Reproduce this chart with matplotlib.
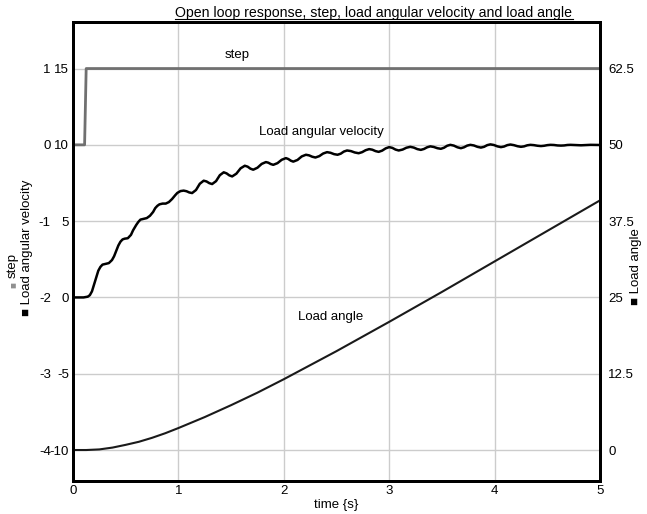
import numpy as np
import matplotlib
matplotlib.use("Agg")
import matplotlib.pyplot as plt
from matplotlib.lines import Line2D

plt.rcParams["font.family"] = ["Liberation Sans", "DejaVu Sans"]
plt.rcParams["font.size"] = 9.5
plt.rcParams["axes.unicode_minus"] = False

# ---------------------------------------------------------------
# Data
# ---------------------------------------------------------------
step_t = [0.0, 0.11, 0.125, 5.0]
step_v = [0, 0, 1, 1]

# load angular velocity: staircase start, then decaying ripple
vel_t = [0.00, 0.10, 0.14, 0.16, 0.18, 0.20, 0.22, 0.24, 0.26, 0.28,
         0.31, 0.34, 0.37, 0.39, 0.41, 0.43, 0.45, 0.47, 0.49, 0.52,
         0.55, 0.57, 0.60, 0.62, 0.64, 0.67, 0.70, 0.73, 0.76, 0.78,
         0.80, 0.82, 0.85, 0.88, 0.91, 0.94, 0.97, 0.99, 1.02, 1.05,
         1.077, 1.103, 1.13, 1.167, 1.203, 1.24, 1.267, 1.293, 1.32, 1.357,
         1.393, 1.43, 1.457, 1.483, 1.51, 1.55, 1.59, 1.63, 1.657, 1.683,
         1.71, 1.75, 1.79, 1.83, 1.853, 1.877, 1.90, 1.94, 1.98, 2.02,
         2.043, 2.067, 2.09, 2.13, 2.17, 2.21, 2.24, 2.27, 2.30, 2.337,
         2.373, 2.41, 2.443, 2.477, 2.51, 2.54, 2.57, 2.60, 2.637, 2.673,
         2.71, 2.743, 2.777, 2.81, 2.84, 2.87, 2.90, 2.933, 2.967, 3.00,
         3.03, 3.06, 3.09, 3.127, 3.163, 3.20, 3.233, 3.267, 3.30, 3.33,
         3.36, 3.39, 3.423, 3.457, 3.49, 3.52, 3.55, 3.58, 3.613, 3.647,
         3.68, 3.71, 3.74, 3.77, 3.803, 3.837, 3.87, 3.90, 3.93, 3.96,
         3.993, 4.027, 4.06, 4.09, 4.12, 4.15, 4.183, 4.217, 4.25, 4.28,
         4.31, 4.34, 4.373, 4.407, 4.44, 4.47, 4.50, 4.53, 4.563, 4.597,
         4.63, 4.66, 4.69, 4.72, 4.753, 4.787, 4.82, 4.85, 4.88, 4.91,
         5.00]
vel_v = [0.00, 0.00, 0.05, 0.15, 0.40, 0.85, 1.30, 1.75, 2.00, 2.15,
         2.20, 2.25, 2.45, 2.70, 3.05, 3.40, 3.65, 3.80, 3.85, 3.88,
         4.10, 4.40, 4.75, 4.95, 5.10, 5.15, 5.20, 5.35, 5.60, 5.85,
         6.00, 6.10, 6.15, 6.15, 6.25, 6.45, 6.70, 6.85, 6.97, 7.00,
         6.96, 6.88, 6.84, 7.04, 7.45, 7.65, 7.60, 7.49, 7.43, 7.62,
         8.01, 8.20, 8.13, 8.00, 7.93, 8.11, 8.46, 8.63, 8.57, 8.44,
         8.37, 8.50, 8.75, 8.87, 8.83, 8.74, 8.69, 8.80, 9.02, 9.13,
         9.07, 8.96, 8.90, 9.01, 9.24, 9.35, 9.31, 9.22, 9.17, 9.26,
         9.43, 9.52, 9.48, 9.39, 9.35, 9.42, 9.56, 9.63, 9.59, 9.50,
         9.45, 9.52, 9.65, 9.72, 9.68, 9.59, 9.54, 9.62, 9.77, 9.85,
         9.80, 9.69, 9.63, 9.69, 9.81, 9.87, 9.82, 9.72, 9.67, 9.73,
         9.84, 9.90, 9.86, 9.78, 9.74, 9.81, 9.94, 10.00, 9.95, 9.84,
         9.78, 9.84, 9.95, 10.00, 9.96, 9.87, 9.82, 9.87, 9.98, 10.03,
         9.99, 9.90, 9.85, 9.89, 9.98, 10.02, 9.98, 9.91, 9.87, 9.90,
         9.97, 10.00, 9.98, 9.94, 9.92, 9.94, 9.98, 10.00, 9.99, 9.96,
         9.95, 9.96, 9.99, 10.00, 9.99, 9.98, 9.97, 9.98, 9.99, 10.00,
         9.99]

ang_t = [0.0, 0.125, 0.25, 0.375, 0.5, 0.625, 0.75, 0.875, 1.0, 1.25,
         1.5, 1.75, 2.0, 2.5, 3.0, 3.5, 4.0, 4.5, 5.0]
ang_v = [0.0, 0.0, 0.1, 0.4, 0.85, 1.35, 2.0, 2.75, 3.6, 5.4,
         7.35, 9.4, 11.6, 16.2, 21.0, 25.9, 30.9, 35.9, 40.9]

x_ticks = [0, 1, 2, 3, 4, 5]
vel_ticks = [-10, -5, 0, 5, 10, 15]
step_ticks = [-4, -3, -2, -1, 0, 1]
ang_ticks = [0, 12.5, 25, 37.5, 50, 62.5]
ang_labels = ["0", "12.5", "25", "37.5", "50", "62.5"]

# ---------------------------------------------------------------
# Figure
# ---------------------------------------------------------------
fig = plt.figure(figsize=(6.47, 5.14), dpi=100)
ax = fig.add_axes([73 / 647, 1 - 481 / 514, 527 / 647, 459 / 514])

vel_lim = (-12.03, 18.05)
ax.set_xlim(0, 5)
ax.set_ylim(*vel_lim)

# step axis shares the left side: step = (vel - 10) / 5
ax_step = ax.twinx()
ax_step.set_ylim((vel_lim[0] - 10) / 5, (vel_lim[1] - 10) / 5)
ax_step.yaxis.tick_left()
ax_step.set_yticks(step_ticks)
ax_step.tick_params(axis="y", length=0, pad=16)

# load angle axis on the right: angle = (vel + 10) * 2.5
ax_ang = ax.twinx()
ax_ang.set_ylim((vel_lim[0] + 10) * 2.5, (vel_lim[1] + 10) * 2.5)
ax_ang.set_yticks(ang_ticks)
ax_ang.set_yticklabels(ang_labels)
ax_ang.tick_params(axis="y", length=0, pad=6)

ax.set_xticks(x_ticks)
ax.set_yticks(vel_ticks)
ax.tick_params(axis="both", length=0)
ax.tick_params(axis="y", pad=3)
ax.tick_params(axis="x", pad=3)
ax.grid(True, color="#cccccc", lw=1)
ax.set_axisbelow(True)

for a in (ax, ax_step, ax_ang):
    for s in a.spines.values():
        s.set_linewidth(2)
        s.set_color("black")

ax_step.plot(step_t, step_v, color="#707070", lw=2)
ax.plot(vel_t, vel_v, color="black", lw=1.8)
ax_ang.plot(ang_t, ang_v, color="#1a1a1a", lw=1.5)

ax.text(1.56, 15.9, "step", ha="center", va="center")
ax.text(2.36, 10.85, "Load angular velocity", ha="center", va="center")
ax.text(2.44, -1.3, "Load angle", ha="center", va="center")

ax.set_xlabel("time {s}", labelpad=1)

# axis labels (rotated, with coloured markers)
fig.text(13 / 647, 1 - 285 / 514, "\u25a0", color="#909090", rotation=90,
         ha="center", va="center", fontsize=7)
fig.text(13 / 647, 1 - 265 / 514, "step", rotation=90,
         ha="center", va="center")
fig.text(27 / 647, 1 - 248 / 514, "\u25a0 Load angular velocity", rotation=90,
         ha="center", va="center")
fig.text(636 / 647, 1 - 267 / 514, "\u25a0 Load angle", rotation=90,
         ha="center", va="center")

# underlined title
title = fig.text(374 / 647, 1 - 13 / 514,
                 "Open loop response, step, load angular velocity and load angle",
                 ha="center", va="center", fontsize=10.2)
fig.canvas.draw()
bb = title.get_window_extent().transformed(fig.transFigure.inverted())
fig.add_artist(Line2D([bb.x0, bb.x1], [bb.y0 + 0.002, bb.y0 + 0.002],
                      transform=fig.transFigure, color="black", lw=0.8))

fig.savefig("out.png", dpi=100)
